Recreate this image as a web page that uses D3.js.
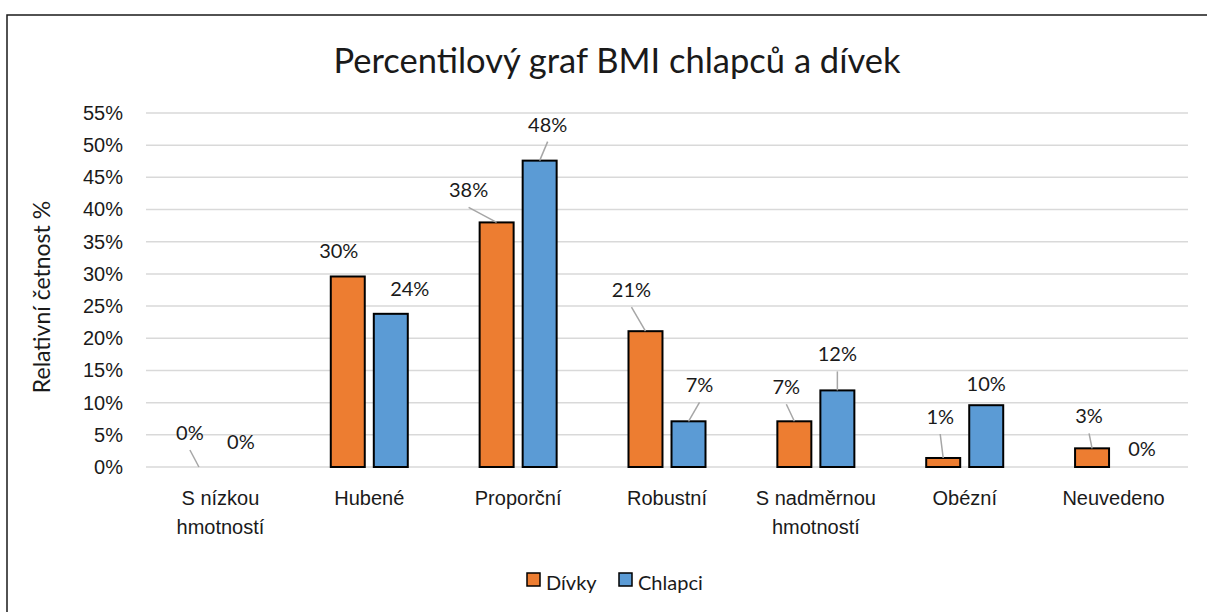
<!DOCTYPE html>
<html>
<head>
<meta charset="utf-8">
<script src="https://cdn.jsdelivr.net/npm/d3@7"></script>
<style>
  body { margin: 0; background: #fff; }
  svg { font-family: Lato, "Open Sans", sans-serif; }
  .grid line { stroke: #d9d9d9; stroke-width: 1.5; }
  .lbl { font-size: 20px; fill: #1a1a1a; }
</style>
</head>
<body>
<div class="chart"></div>
<script>
// DATA ------------------------------
const categories = ["S nízkou\nhmotností", "Hubené", "Proporční", "Robustní", "S nadměrnou\nhmotností", "Obézní", "Neuvedeno"];
const seriesNames = ["Dívky", "Chlapci"];
const divky = [0, 29.6, 38.0, 21.1, 7.1, 1.4, 2.9];
const chlapci = [0, 23.8, 47.6, 7.1, 11.9, 9.6, 0];
const yTicks = [0, 5, 10, 15, 20, 25, 30, 35, 40, 45, 50, 55];

// where excel moved the data labels (dx, dy from the top of the bar)
const divkyLabelShift = [[-9, -34], [-9, -25], [-28, -32], [-14, -41], [-8, -34], [-3, -41], [-3, -32]];
const chlapciLabelShift = [[-1, -25], [19, -25], [8, -36], [11, -36], [0, -36], [0, -21], [7, -18]];

const colors = {"Dívky": "#ED7D31", "Chlapci": "#5B9BD5"};

// CHART ------------------------------
const W = 1207, H = 612;
const margin = ({top: 113, right: 19, bottom: 145, left: 146});

const svg = d3.select(".chart")
    .append("svg")
    .attr("width", W)
    .attr("height", H);

// outer border
svg.append("rect")
    .attr("x", 7).attr("y", 15)
    .attr("width", W + 20).attr("height", H + 20)
    .attr("fill", "none")
    .attr("stroke", "#1a1a1a")
    .attr("stroke-width", 1.5);

const x0 = d3.scaleBand()
    .domain(categories)
    .range([margin.left, W - margin.right]);

const x1 = d3.scaleBand()
    .domain(seriesNames)
    .range([0, x0.bandwidth()])
    .paddingInner(0.21)
    .paddingOuter(0.835);

const y = d3.scaleLinear()
    .domain([0, 55])
    .range([H - margin.bottom, margin.top]);

// gridlines
svg.append("g")
    .attr("class", "grid")
    .selectAll("line")
    .data(yTicks)
    .enter()
    .append("line")
    .attr("x1", margin.left)
    .attr("x2", W - margin.right)
    .attr("y1", d => y(d))
    .attr("y2", d => y(d));

// y axis labels
const yAxis = d3.axisLeft(y)
    .tickValues(yTicks)
    .tickSize(0)
    .tickPadding(0)
    .tickFormat(d => d + "%");

const yg = svg.append("g")
    .attr("transform", `translate(${123}, 0)`)
    .call(yAxis);
yg.select(".domain").remove();
yg.selectAll("text")
    .attr("class", "lbl")
    .attr("font-family", null)
    .attr("font-size", null);

// x axis labels
const xAxis = d3.axisBottom(x0).tickSize(0).tickFormat("");
const xg = svg.append("g")
    .attr("transform", `translate(0, ${y(0)})`)
    .call(xAxis);
xg.select(".domain").remove();
xg.selectAll(".tick").each(function(d) {
    const t = d3.select(this).append("text")
        .attr("class", "lbl")
        .attr("text-anchor", "middle")
        .attr("y", 38);
    d.split("\n").forEach((line, i) => {
        t.append("tspan").attr("x", 0).attr("dy", i ? 29 : 0).text(line);
    });
});

// bars
const rows = categories.map((c, i) => ({
    cat: c,
    vals: [
        {s: "Dívky", v: divky[i], shift: divkyLabelShift[i]},
        {s: "Chlapci", v: chlapci[i], shift: chlapciLabelShift[i]}
    ]
}));

const groups = svg.selectAll(".grp")
    .data(rows)
    .enter()
    .append("g")
    .attr("class", "grp")
    .attr("transform", d => `translate(${x0(d.cat)}, 0)`);

groups.selectAll("rect")
    .data(d => d.vals.filter(e => e.v > 0))
    .enter()
    .append("rect")
    .attr("x", d => x1(d.s))
    .attr("y", d => y(d.v))
    .attr("width", x1.bandwidth())
    .attr("height", d => y(0) - y(d.v))
    .attr("fill", d => colors[d.s])
    .attr("stroke", "#000")
    .attr("stroke-width", 2);

// leader lines for labels that sit far from their bar
groups.selectAll(".leader")
    .data(d => d.vals.filter(e => e.shift[1] < -30))
    .enter()
    .append("line")
    .attr("class", "leader")
    .attr("x1", d => x1(d.s) + x1.bandwidth() / 2 + d.shift[0])
    .attr("y1", d => y(d.v) + d.shift[1] + 17)
    .attr("x2", d => x1(d.s) + x1.bandwidth() / 2)
    .attr("y2", d => y(d.v))
    .attr("stroke", "#a6a6a6")
    .attr("stroke-width", 1.5);

groups.selectAll(".val")
    .data(d => d.vals)
    .enter()
    .append("text")
    .attr("class", "lbl val")
    .attr("text-anchor", "middle")
    .attr("x", d => x1(d.s) + x1.bandwidth() / 2 + d.shift[0])
    .attr("y", d => y(d.v) + d.shift[1])
    .attr("dy", "0.35em")
    .text(d => Math.round(d.v) + "%");

// title
svg.append("text")
    .attr("x", 617)
    .attr("y", 73)
    .attr("text-anchor", "middle")
    .attr("font-size", 34.5)
    .attr("fill", "#1a1a1a")
    .text("Percentilový graf BMI chlapců a dívek");

// y title
svg.append("text")
    .attr("class", "lbl")
    .attr("font-size", 23)
    .style("font-size", "23px")
    .attr("transform", `translate(50, ${297}) rotate(-90)`)
    .attr("text-anchor", "middle")
    .text("Relativní četnost %");

// legend
const legend = svg.append("g")
    .attr("transform", "translate(527, 573)");
const li = legend.selectAll("g")
    .data(seriesNames)
    .enter()
    .append("g")
    .attr("transform", (d, i) => `translate(${i * 92}, 0)`);
li.append("rect")
    .attr("width", 13).attr("height", 13)
    .attr("fill", d => colors[d])
    .attr("stroke", "#000")
    .attr("stroke-width", 1.5);
li.append("text")
    .attr("class", "lbl")
    .attr("x", 19)
    .attr("y", 17)
    .text(d => d);
</script>
</body>
</html>
